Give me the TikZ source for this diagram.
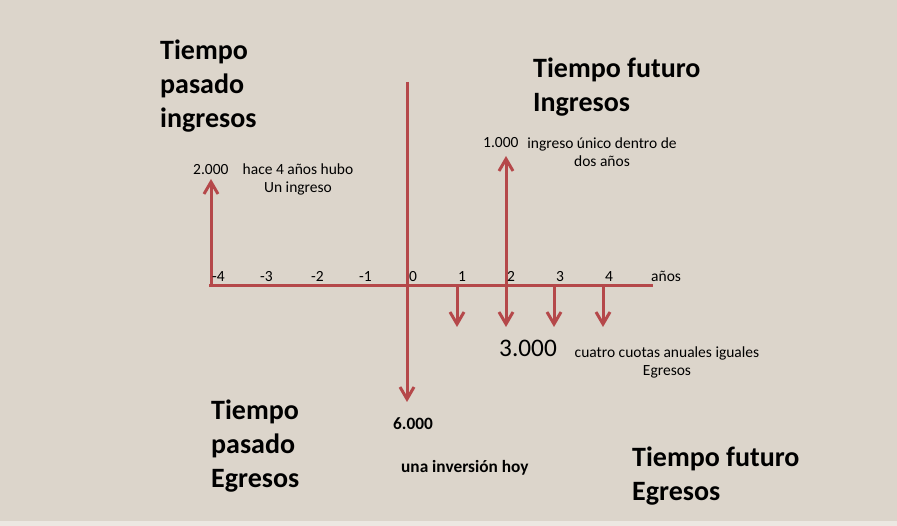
\documentclass[tikz,border=0pt]{standalone}
\usepackage{fontspec}
\setmainfont{Carlito}
\usetikzlibrary{arrows.meta}
\definecolor{fondo}{HTML}{DCD5CB}
\definecolor{borde}{HTML}{ECE8E2}
\definecolor{flecha}{HTML}{B5484A}
\tikzset{
  eje/.style={draw=flecha,line width=3pt},
  flujo/.style={color=flecha,line width=3pt,-{Straight Barb[length=12pt,width=14pt]}},
  titulo/.style={font=\fontsize{28}{34}\selectfont\bfseries,align=left,anchor=base west,inner sep=0pt},
  nota/.style={font=\fontsize{15.5}{18.5}\selectfont,align=center,anchor=base,inner sep=0pt},
  marca/.style={font=\fontsize{15.5}{18}\selectfont,anchor=base west,inner sep=0pt},
  grueso/.style={marca,font=\fontsize{17.3}{20}\selectfont\bfseries},
}

\begin{document}
\begin{tikzpicture}[x=1pt,y=-1pt]
  % fondo
  \fill[fondo] (0,0) rectangle (897,526);
  \fill[borde] (0,521) rectangle (897,526);
  \useasboundingbox (0,0) rectangle (897,526);

  % ejes
  \coordinate (ejeI) at (209,286);
  \coordinate (ejeD) at (653,286);
  \coordinate (hoyA) at (407,82);
  \coordinate (hoyB) at (407,402);
  \path[eje] (ejeI) -- (ejeD);

  % periodos
  \coordinate (pm4) at (211,286);
  \coordinate (p1) at (457,286);
  \coordinate (p2) at (506,286);
  \coordinate (p3) at (554,286);
  \coordinate (p4) at (603,286);
  \coordinate (pm4t) at (211,179);
  \coordinate (p2t) at (506,156);
  \coordinate (p1b) at (457,327);
  \coordinate (p2b) at (506,327);
  \coordinate (p3b) at (554,327);
  \coordinate (p4b) at (603,327);

  \path[flujo]
    (hoyA) edge (hoyB)
    (pm4) edge (pm4t)
    (p2) edge (p2t)
    (p1) edge (p1b)
    (p2) edge (p2b)
    (p3) edge (p3b)
    (p4) edge (p4b);

  % etiquetas del eje
  \node[marca] (em4) at (212,282) {-4};
  \node[marca] (em3) at (260,282) {-3};
  \node[marca] (em2) at (311,282) {-2};
  \node[marca] (em1) at (359,282) {-1};
  \node[marca] (e0) at (409,282) {0};
  \node[marca] (e1) at (458,282) {1};
  \node[marca] (e2) at (507,282) {2};
  \node[marca] (e3) at (556,282) {3};
  \node[marca] (e4) at (605,282) {4};
  \node[marca] (anos) at (651,282) {años};

  % montos
  \node[marca] (m2000) at (193,175) {2.000};
  \node[nota] (n2000) at (298,193) {hace 4 años hubo\\Un ingreso};
  \node[marca] (m1000) at (483,148) {1.000};
  \node[nota] (n1000) at (602,167) {ingreso único dentro de\\dos años};
  \node[marca,font=\fontsize{25.3}{28}\selectfont] (m3000) at (499,357) {3.000};
  \node[nota] (n3000) at (667,376) {cuatro cuotas anuales iguales\\Egresos};
  \node[grueso] (m6000) at (393,430) {6.000};
  \node[grueso] (n6000) at (401,472) {una inversión hoy};

  % titulos
  \node[titulo] (pasI) at (160,128) {Tiempo\\pasado\\ingresos};
  \node[titulo] (futI) at (533,112) {Tiempo futuro\\Ingresos};
  \node[titulo] (pasE) at (211,487) {Tiempo\\pasado\\Egresos};
  \node[titulo] (futE) at (632,500) {Tiempo futuro\\Egresos};
\end{tikzpicture}
\end{document}
